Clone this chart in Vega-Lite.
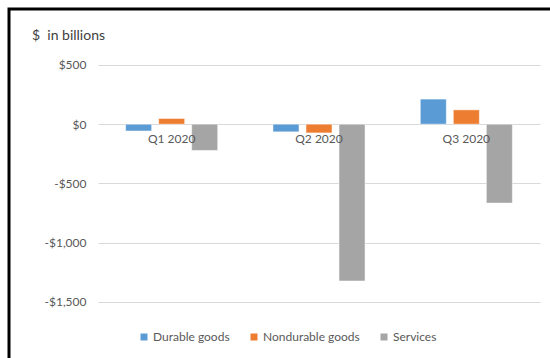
{
  "$schema": "https://vega.github.io/schema/vega-lite/v6.json",
  "width": 544,
  "height": 352,
  "autosize": {"type": "none"},
  "padding": {"left": 9, "top": 9, "right": -3, "bottom": -3},
  "background": "white",
  "title": {
    "text": "$\u00a0 in billions",
    "anchor": "start",
    "frame": "group",
    "dx": 23,
    "offset": -34,
    "fontSize": 14,
    "font": "Lato",
    "fontWeight": "normal",
    "color": "#404040"
  },
  "data": {
    "values": [
      {"quarter": "Q1 2020", "category": "Durable goods", "value": -58},
      {"quarter": "Q1 2020", "category": "Nondurable goods", "value": 48},
      {"quarter": "Q1 2020", "category": "Services", "value": -222},
      {"quarter": "Q2 2020", "category": "Durable goods", "value": -65},
      {"quarter": "Q2 2020", "category": "Nondurable goods", "value": -74},
      {"quarter": "Q2 2020", "category": "Services", "value": -1325},
      {"quarter": "Q3 2020", "category": "Durable goods", "value": 212},
      {"quarter": "Q3 2020", "category": "Nondurable goods", "value": 121},
      {"quarter": "Q3 2020", "category": "Services", "value": -667}
    ]
  },
  "mark": {"type": "bar", "stroke": "white", "strokeWidth": 0.5},
  "encoding": {
    "x": {
      "field": "quarter",
      "type": "nominal",
      "scale": {"paddingInner": 0.375, "paddingOuter": 0.1875, "range": [89, 531]},
      "axis": {
        "title": null,
        "labelAngle": 0,
        "offset": -237,
        "domain": false,
        "ticks": false,
        "labelPadding": 9,
        "labelFontSize": 12,
        "labelFont": "Lato",
        "labelColor": "#595959",
        "zindex": 1
      }
    },
    "xOffset": {
      "field": "category",
      "type": "nominal",
      "scale": {"paddingInner": 0.212, "paddingOuter": 0}
    },
    "y": {
      "field": "value",
      "type": "quantitative",
      "scale": {"domain": [-2001, 973], "nice": false, "zero": false},
      "axis": {
        "title": null,
        "values": [500, 0, -500, -1000, -1500],
        "labelExpr": "datum.value < 0 ? '-$' + format(-datum.value, ',') : '$' + format(datum.value, ',')",
        "offset": -89,
        "domain": false,
        "ticks": false,
        "labelPadding": 12,
        "labelFontSize": 12,
        "labelFont": "Lato",
        "labelColor": "#595959",
        "gridColor": "#d9d9d9",
        "gridWidth": 1
      }
    },
    "color": {
      "field": "category",
      "type": "nominal",
      "scale": {
        "domain": ["Durable goods", "Nondurable goods", "Services"],
        "range": ["#5B9BD5", "#ED7D31", "#A5A5A5"]
      },
      "legend": {
        "title": null,
        "orient": "none",
        "direction": "horizontal",
        "legendX": 129,
        "legendY": 322,
        "symbolType": "square",
        "symbolSize": 49,
        "symbolStrokeWidth": 0,
        "labelFontSize": 12,
        "labelFont": "Lato",
        "labelColor": "#595959",
        "labelOffset": 3,
        "columnPadding": 18
      }
    }
  },
  "config": {"view": {"stroke": "#000000", "strokeWidth": 3}}
}
